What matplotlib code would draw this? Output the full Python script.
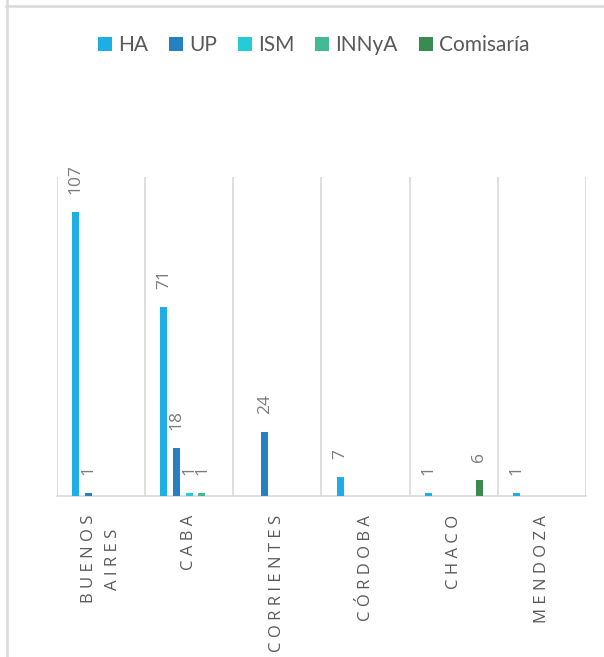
import numpy as np
import matplotlib
matplotlib.use('Agg')
import matplotlib.pyplot as plt
from matplotlib.patches import Patch
from matplotlib.lines import Line2D

# Data
provinces = ['BUENOS\nAIRES', 'CABA', 'CORRIENTES', 'CÓRDOBA', 'CHACO', 'MENDOZA']
series = ['HA', 'UP', 'ISM', 'INNyA', 'Comisaría']
ha = [107, 71, 0, 7, 1, 1]
up = [1, 18, 24, 0, 0, 0]
ism = [0, 1, 0, 0, 0, 0]
innya = [0, 1, 0, 0, 0, 0]
comisaria = [0, 0, 0, 0, 6, 0]
colors = ['#1EAEE6', '#2680C2', '#27CBD8', '#43B994', '#3B8A52']

values = [ha, up, ism, innya, comisaria]

fig = plt.figure(figsize=(6.04, 6.57), dpi=100)
ax = fig.add_axes([57/604, 1 - 496/657, (586-57)/604, (496-177)/657])

x = np.arange(len(provinces))
step = 0.144
width = 0.08

for i in range(len(series)):
    xs = x + (i - 2)*step
    vals = np.array(values[i])
    mask = vals > 0
    ax.bar(xs[mask], vals[mask], width=width, color=colors[i], zorder=3)
    # Value labels above each bar
    for xv, v in zip(xs[mask], vals[mask]):
        ax.annotate('%d' % v, (xv, v), xytext=(0, 13), textcoords='offset points',
                    rotation=90, ha='center', va='bottom', fontsize=12.5,
                    color='#7A7A7A', family='Open Sans')

ax.set_xlim(-0.5, len(provinces) - 0.5)
ax.set_ylim(0, 120)
ax.set_yticks([])

# Category labels, letter spaced like the original
labels = ['\n'.join(' '.join(w) for w in p.split('\n')) for p in provinces]
ax.set_xticks(x)
ax.set_xticklabels(labels, rotation=90, va='top', ha='center', multialignment='center',
                   linespacing=1.6, fontsize=12, color='#595959', family='Open Sans')
ax.tick_params(axis='x', which='major', length=0, pad=13.5)

# Separators between categories
ax.set_xticks(np.arange(-0.5, len(provinces)), minor=True)
ax.tick_params(axis='x', which='minor', length=0)
ax.grid(True, which='minor', axis='x', color='#D9D9D9', linewidth=1.2, zorder=0)
ax.grid(False, which='major')

for s in ['top', 'right', 'left']:
    ax.spines[s].set_visible(False)
ax.spines['bottom'].set_color('#D9D9D9')
ax.spines['bottom'].set_linewidth(1.2)

# Legend
handles = [Patch(facecolor=c, edgecolor='none') for c in colors]
leg = fig.legend(handles, series, loc='center', bbox_to_anchor=(313.5/604, 1 - 45/657),
                 ncol=5, frameon=False, handlelength=0.67, handleheight=0.67,
                 handletextpad=0.3, columnspacing=1.0, borderaxespad=0,
                 prop={'family': 'Lato', 'size': 15})
for t in leg.get_texts():
    t.set_color('#595959')

# Chart border fragments (chart is cropped)
fig.add_artist(Line2D([6.5/604, 6.5/604], [0, 1], color='#D9D9D9', linewidth=1.8))
fig.add_artist(Line2D([6/604, 1], [1 - 5.5/657, 1 - 5.5/657], color='#D9D9D9', linewidth=1.8))

plt.savefig('out.png', dpi=100)
plt.close()
